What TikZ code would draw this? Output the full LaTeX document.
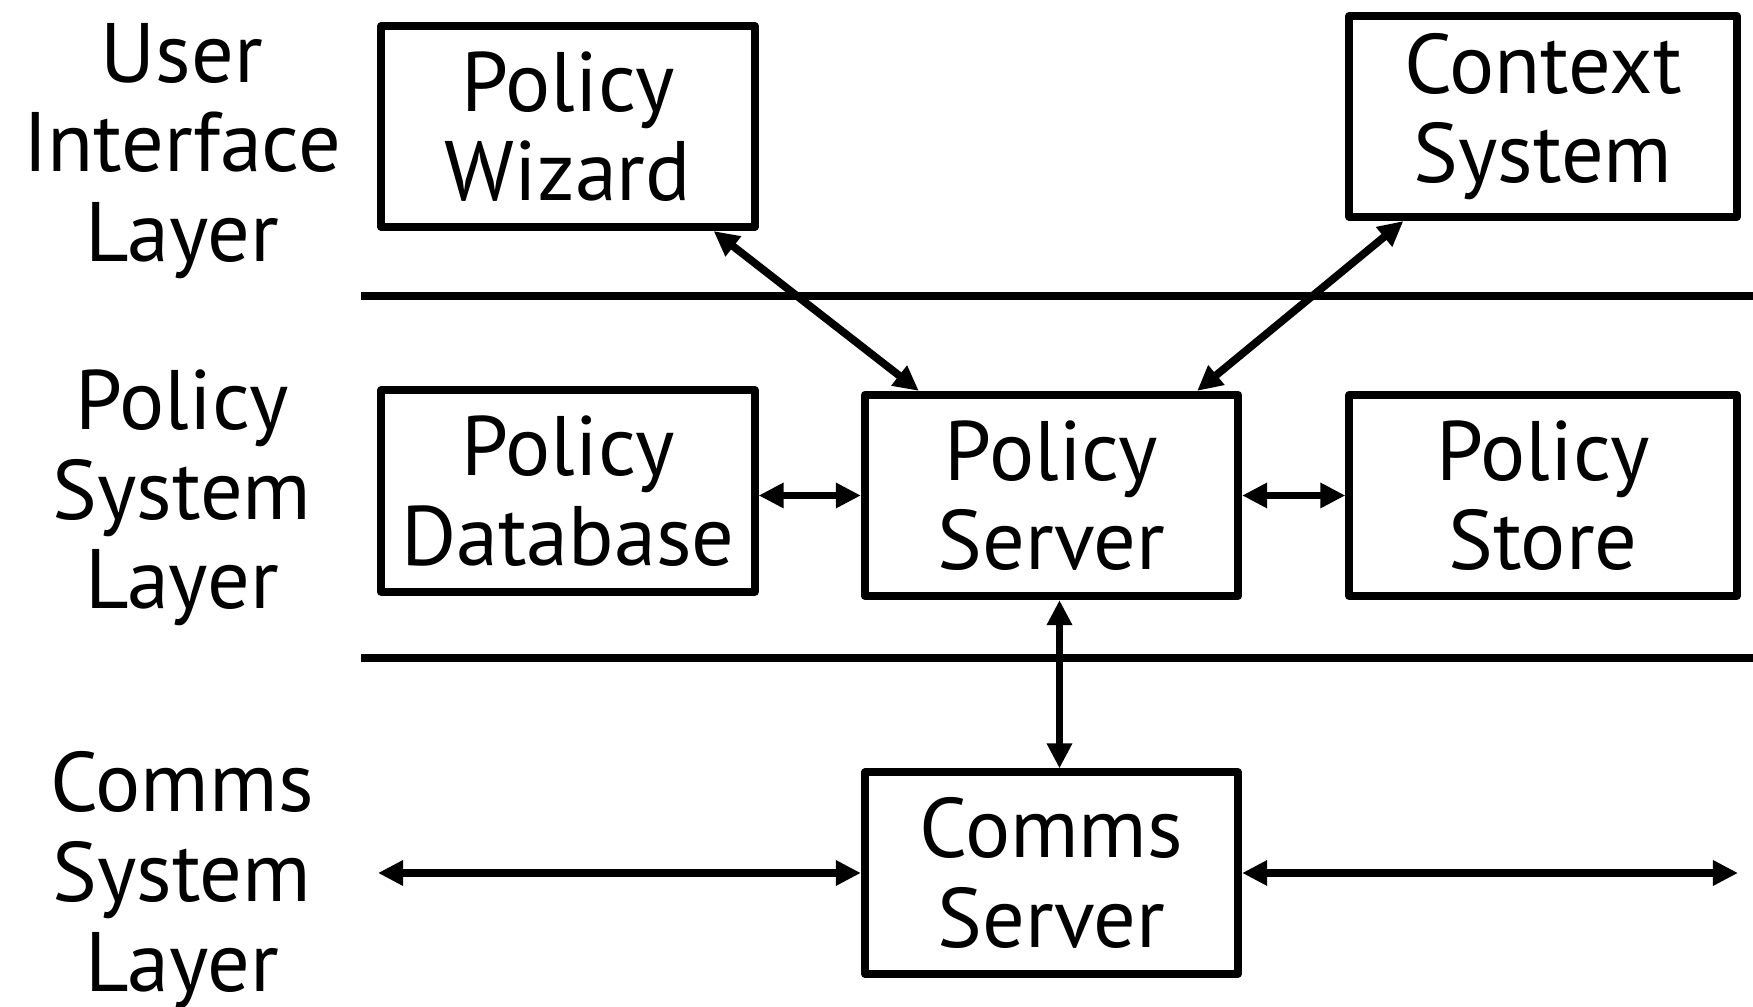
\documentclass[tikz,border=0pt]{standalone}
\usepackage{fontspec}
\setmainfont{PT Sans}
\usepackage{tikz}
\usetikzlibrary{arrows.meta}
\usetikzlibrary{calc}

\begin{document}
\begin{tikzpicture}[x=0.01cm,y=-0.01cm,
  box/.style={draw,line width=2.3pt,line join=round,minimum width=3.73cm,minimum height=2.01cm,inner sep=0pt,align=center,font=\fontsize{24}{25.5}\selectfont},
  layer/.style={align=center,inner sep=0pt,font=\fontsize{24}{25.5}\selectfont},
  link/.style={line width=2.2pt,{Triangle[length=0.25cm,width=0.24cm]}-{Triangle[length=0.25cm,width=0.24cm]}},
  rule/.style={line width=2.4pt}]
\useasboundingbox (0,0) rectangle (1753,1007);
% layer separators
\draw[rule] (361,296) -- (1753,296);
\draw[rule] (361,658) -- (1753,658);
% layer names
\node[layer] (uilayer) at (182,151) {User\\Interface\\Layer};
\node[layer] (pslayer) at (182,498) {Policy\\System\\Layer};
\node[layer] (cslayer) at (182,880) {Comms\\System\\Layer};
% components
\node[box] (wizard) at (568,126.5) {Policy\\Wizard};
\node[box,minimum width=3.87cm] (context) at (1543,116.5) {Context\\System};
\node[box] (database) at (568,491) {Policy\\Database};
\node[box] (server) at (1051.5,495.5) {Policy\\Server};
\node[box,minimum width=3.87cm] (store) at (1543,495.5) {Policy\\Store};
\node[box] (comms) at (1051.5,873) {Comms\\Server};
\coordinate (commsleft) at (378,873);
\coordinate (commsright) at (1738,873);
% links
\draw[link] ($(wizard.south east)+(-45,0)$) -- ($(server.north west)+(58,0)$);
\draw[link] ($(context.south west)+(58,0)$) -- ($(server.north east)+(-45,0)$);
\draw[link] (database.east |- server.west) -- (server.west);
\draw[link] (server.east) -- (store.west);
\draw[link] ($(server.south)+(8,0)$) -- ($(comms.north)+(8,0)$);
\draw[link] (commsleft) -- (comms.west);
\draw[link] (comms.east) -- (commsright);
\end{tikzpicture}
\end{document}
